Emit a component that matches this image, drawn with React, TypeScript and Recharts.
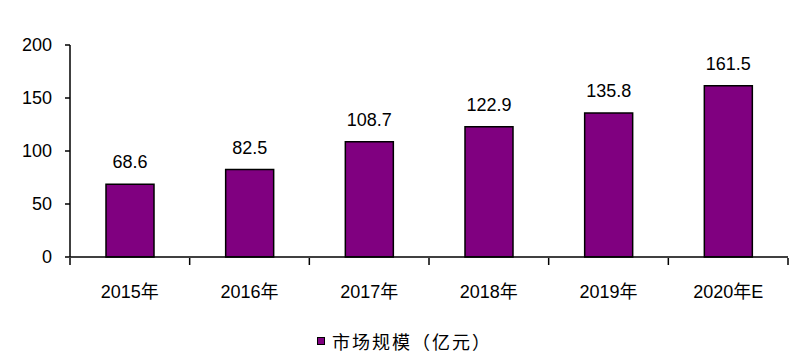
import { BarChart, Bar, XAxis, YAxis, Legend, LabelList } from 'recharts'

const years = ['2015年', '2016年', '2017年', '2018年', '2019年', '2020年E']
const marketSize = [68.6, 82.5, 108.7, 122.9, 135.8, 161.5]
const yTicks = [0, 50, 100, 150, 200]
const seriesName = '市场规模（亿元）'

const data = years.map((year, i) => ({ year, value: marketSize[i] }))

const FONT = "'Liberation Sans', Arial, 'Noto Sans CJK SC', sans-serif"
const CJK_FONT = "'Noto Sans CJK SC', 'Liberation Sans', sans-serif"
const CHART_W = 809
const CHART_H = 359
const MARGIN = { top: 45, right: 21, left: 0, bottom: 6 }
const Y_AXIS_W = 70
const band = (CHART_W - MARGIN.left - MARGIN.right - Y_AXIS_W) / years.length

function CategoryTick(props: any) {
  const { x, y, payload, index } = props
  return (
    <g>
      {index === 0 && (
        <line x1={x - band / 2} x2={x - band / 2} y1={y} y2={y - 7} stroke="#000" strokeWidth={1.5} />
      )}
      <line x1={x + band / 2} x2={x + band / 2} y1={y} y2={y - 7} stroke="#000" strokeWidth={1.5} />
      <text x={x} y={y + 33} textAnchor="middle" fontSize={18} fill="#000" fontFamily={FONT}>
        {payload.value}
      </text>
    </g>
  )
}

function LegendBox() {
  return (
    <div
      style={{
        height: 24,
        display: 'flex',
        alignItems: 'center',
        justifyContent: 'center',
        fontFamily: CJK_FONT,
        fontSize: 18,
        color: '#000',
      }}
    >
      <span
        style={{
          display: 'inline-block',
          width: 6,
          height: 6,
          background: '#800080',
          border: '1.5px solid #000',
          marginRight: 7,
        }}
      />
      <span style={{ letterSpacing: 2 }}>{seriesName}</span>
    </div>
  )
}

export default function App() {
  return (
    <div style={{ position: 'absolute', left: 0, top: 0, background: '#fff' }}>
      <BarChart width={CHART_W} height={CHART_H} data={data} margin={MARGIN}>
        <XAxis
          dataKey="year"
          height={72}
          axisLine={{ stroke: '#000', strokeWidth: 1.5 }}
          tickLine={false}
          tick={<CategoryTick />}
          interval={0}
        />
        <YAxis
          width={Y_AXIS_W}
          domain={[0, 200]}
          ticks={yTicks}
          interval={0}
          axisLine={{ stroke: '#000', strokeWidth: 1.5 }}
          tickLine={{ stroke: '#000', strokeWidth: 1.5 }}
          tickSize={5}
          tickMargin={13}
          tick={{ fontSize: 18, fill: '#000', fontFamily: FONT }}
        />
        <Legend
          verticalAlign="bottom"
          content={<LegendBox />}
          wrapperStyle={{ left: 0, width: CHART_W }}
        />
        <Bar
          dataKey="value"
          name={seriesName}
          fill="#800080"
          stroke="#000"
          strokeWidth={1.5}
          barSize={48}
          isAnimationActive={false}
        >
          <LabelList
            dataKey="value"
            position="top"
            offset={16}
            fontSize={18}
            fill="#000"
            fontFamily={FONT}
          />
        </Bar>
      </BarChart>
    </div>
  )
}
